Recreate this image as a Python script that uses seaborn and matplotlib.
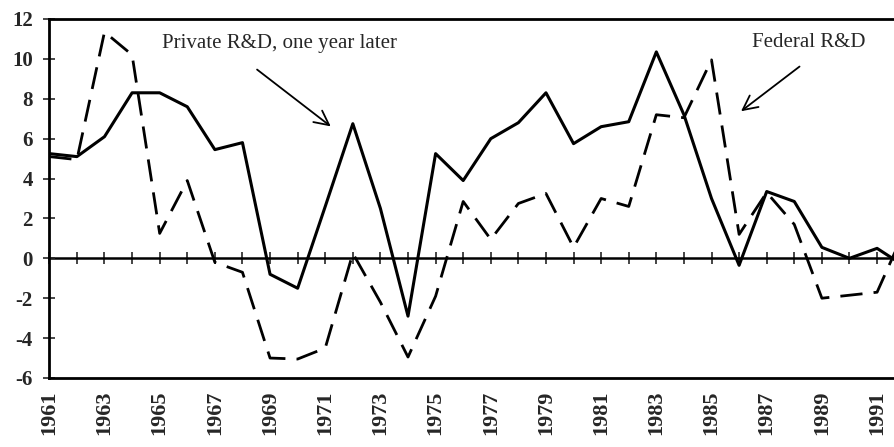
import matplotlib
matplotlib.use('Agg')
import matplotlib.pyplot as plt
import pandas as pd
import seaborn as sns

sns.set_style('white')
plt.rcParams['font.family'] = ['Liberation Serif', 'DejaVu Serif']

years = list(range(1961, 1993))
private_rd = [5.25, 5.1, 6.1, 8.3, 8.3, 7.6, 5.45, 5.8, -0.8, -1.5, 2.6, 6.75, 2.5, -2.9, 5.25, 3.9,
              6.0, 6.8, 8.3, 5.75, 6.6, 6.85, 10.35, 7.2, 3.0, -0.35, 3.35, 2.85, 0.55, 0.0, 0.5, -0.4]
federal_rd = [5.1, 4.95, 11.35, 10.2, 1.25, 3.9, -0.2, -0.7, -5.0, -5.05, -4.5, 0.25, -2.2, -4.95, -1.9, 2.85,
              0.95, 2.75, 3.25, 0.55, 3.0, 2.6, 7.2, 7.05, 9.95, 1.2, 3.3, 1.7, -2.0, -1.85, -1.7, 1.4]
year_labels = list(range(1961, 1992, 2))
y_ticks = list(range(-6, 13, 2))

df = pd.DataFrame({'year': years, 'private': private_rd, 'federal': federal_rd})

fig = plt.figure(figsize=(8.95, 4.47), dpi=100)
ax = fig.add_axes([0.0551, 0.1544, 0.9449, 0.8031])

sns.lineplot(data=df, x='year', y='private', ax=ax, color='black', lw=2.2)
sns.lineplot(data=df, x='year', y='federal', ax=ax, color='black', lw=2.0,
             dashes=False, linestyle=(0, (8, 4)))

ax.set_xlim(1961, 1991.65)
ax.set_ylim(-6, 12)
ax.set_xlabel('')
ax.set_ylabel('')

ax.set_yticks(y_ticks)
ax.set_yticklabels([str(v) for v in y_ticks], fontsize=15, fontweight='bold')
ax.tick_params(axis='y', direction='inout', length=8, width=1.2, pad=8, left=True)
ax.set_xticks(year_labels)
ax.set_xticklabels([str(y) for y in year_labels], rotation=90, fontsize=16, fontweight='bold')
ax.tick_params(axis='x', length=0, pad=9)

for side in ['left', 'top', 'bottom']:
    ax.spines[side].set_visible(True)
    ax.spines[side].set_color('black')
    ax.spines[side].set_linewidth(2)
ax.spines['right'].set_visible(False)

# zero line with a tick at every year
zero_axis = ax.secondary_xaxis(1 / 3)
zero_axis.set_xticks(years[:-1])
zero_axis.set_xticklabels([])
zero_axis.tick_params(direction='inout', length=9, width=1.2,
                      labeltop=False, labelbottom=False)
for side in ['top', 'bottom']:
    zero_axis.spines[side].set_linewidth(1.8)
    zero_axis.spines[side].set_color('black')

ax.text(1965.08, 10.75, 'Private R&D, one year later', fontsize=15, va='center', ha='left')
ax.text(1986.47, 10.8, 'Federal R&D', fontsize=15, va='center', ha='left')
arrow = dict(arrowstyle='->', color='black', lw=1.3, mutation_scale=26)
ax.annotate('', xy=(1971.28, 6.53), xytext=(1968.45, 9.55), arrowprops=arrow)
ax.annotate('', xy=(1985.99, 7.29), xytext=(1988.27, 9.7), arrowprops=arrow)

fig.savefig('out.png', dpi=100)
